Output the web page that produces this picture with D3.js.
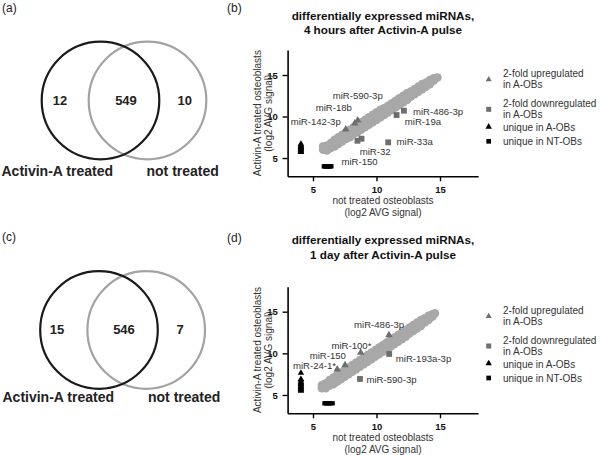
<!DOCTYPE html>
<html><head><meta charset="utf-8">
<script src="https://cdn.jsdelivr.net/npm/d3@7"></script>
<style>body{margin:0;background:#fff}svg{display:block;font-family:"Liberation Sans",Arial,Helvetica,sans-serif}</style>
</head><body><svg id="chart" width="600" height="455"></svg>
<script>
// ---------------- data ----------------
const vennSetNames = ["Activin-A treated", "not treated"];
const vennCounts4h = [12, 549, 10];
const vennCounts1d = [15, 546, 7];
const panelLetters = ["(a)", "(b)", "(c)", "(d)"];
const axisTicks = [5, 10, 15];
const xTitle = ["not treated osteoblasts", "(log2 AVG signal)"];
const yTitle = ["Activin-A treated osteoblasts", "(log2 AVG signal)"];
const title4h = ["differentially expressed miRNAs,", "4 hours after Activin-A pulse"];
const title1d = ["differentially expressed miRNAs,", "1 day after Activin-A pulse"];
const legendLabels = [["2-fold upregulated", "in A-OBs"], ["2-fold downregulated", "in A-OBs"], ["unique in A-OBs"], ["unique in NT-OBs"]];

// 4 hours: common miRNAs (grey cloud)
const cloud4h = [[5.8,6.0],[5.8,6.4],[6.1,5.9],[6.1,6.5],[6.4,6.2],[6.4,6.8],[6.7,6.4],[6.7,7.2],[6.7,6.9],
[7.0,6.7],[7.0,7.5],[7.0,7.1],[7.3,7.0],[7.3,7.8],[7.3,7.4],[7.6,7.3],[7.6,8.1],[7.6,7.7],[7.9,7.5],[7.9,8.4],[7.9,8.0],
[8.2,7.9],[8.2,8.7],[8.2,8.3],[8.5,8.1],[8.5,9.0],[8.5,8.6],[8.8,8.4],[8.8,9.3],[8.8,8.9],[9.1,8.7],[9.1,9.6],[9.1,9.2],
[9.4,9.0],[9.4,9.9],[9.4,9.5],[9.7,9.3],[9.7,10.2],[9.7,9.7],[10.0,9.6],[10.0,10.5],[10.0,10.0],[10.3,9.9],[10.3,10.8],[10.3,10.3],
[10.6,10.2],[10.6,11.0],[10.6,10.6],[10.9,10.5],[10.9,11.3],[10.9,10.9],[11.2,10.8],[11.2,11.6],[11.2,11.2],[11.5,11.1],[11.5,11.9],[11.5,11.5],
[11.8,11.4],[11.8,12.2],[11.8,11.8],[12.1,11.7],[12.1,12.5],[12.1,12.1],[12.4,12.0],[12.4,12.8],[12.4,12.4],[12.7,12.4],[12.7,13.0],
[13.0,12.7],[13.0,13.3],[13.3,13.0],[13.3,13.6],[13.6,13.3],[13.6,13.9],[13.9,13.6],[13.9,14.1],[14.2,13.9],[14.2,14.4],[14.5,14.3],[14.5,14.6],[14.8,14.7]];
const up4h = [[7.58,8.46],[8.29,9.18],[8.52,9.54]];
const down4h = [[8.5,7.08],[8.82,7.33],[10.92,6.89],[11.58,10.18],[12.16,10.7]];
const uniqueA4h = [[4.05,5.7],[4.05,5.8],[4.05,5.9],[4.05,6.0],[4.05,6.05],[4.05,6.15],[4.05,6.25],[4.05,6.3],[4.05,6.4],[4.05,6.5],[4.05,6.6],[4.05,6.7]];
const uniqueNT4h = [[5.85,4.0],[5.92,4.0],[5.98,4.0],[6.05,4.0],[6.12,4.0],[6.18,4.0],[6.25,4.0],[6.32,4.0],[6.38,4.0],[6.45,4.0]];
const labels4h = [["miR-590-3p",6.55,12.1],["miR-18b",5.21,10.72],["miR-142-3p",3.24,8.92],["miR-32",8.68,5.4],
["miR-150",7.24,4.2],["miR-33a",11.58,6.63],["miR-486-3p",12.87,10.22],["miR-19a",12.23,8.98]];

// 1 day
const cloud1d = [[5.7,5.8],[5.7,6.2],[6.0,5.8],[6.0,6.4],[6.3,6.1],[6.3,6.8],[6.6,6.3],[6.6,7.1],[6.6,6.7],
[6.9,6.6],[6.9,7.4],[6.9,7.0],[7.2,6.9],[7.2,7.7],[7.2,7.3],[7.5,7.2],[7.5,8.0],[7.5,7.6],[7.8,7.5],[7.8,8.3],[7.8,7.9],
[8.1,7.8],[8.1,8.6],[8.1,8.2],[8.4,8.1],[8.4,8.9],[8.4,8.5],[8.7,8.4],[8.7,9.2],[8.7,8.8],[9.0,8.7],[9.0,9.5],[9.0,9.1],
[9.3,9.0],[9.3,9.8],[9.3,9.4],[9.6,9.3],[9.6,10.1],[9.6,9.7],[9.9,9.6],[9.9,10.4],[9.9,10.0],[10.2,9.9],[10.2,10.7],[10.2,10.3],
[10.5,10.2],[10.5,11.0],[10.5,10.6],[10.8,10.5],[10.8,11.3],[10.8,10.9],[11.1,10.8],[11.1,11.6],[11.1,11.2],[11.4,11.1],[11.4,11.9],[11.4,11.5],
[11.7,11.4],[11.7,12.2],[11.7,11.8],[12.0,11.7],[12.0,12.5],[12.0,12.1],[12.3,12.0],[12.3,12.8],[12.6,12.4],[12.6,13.1],
[12.9,12.7],[12.9,13.4],[13.2,13.0],[13.2,13.7],[13.5,13.3],[13.5,14.0],[13.8,13.7],[13.8,14.2],[14.1,14.0],[14.1,14.5],[14.4,14.4],[14.4,14.7],[14.6,14.8]];
const up1d = [[6.91,8.09],[7.52,8.6],[8.76,10.08],[10.98,12.2]];
const down1d = [[8.7,6.92],[11.0,9.92]];
const uniqueA1d = [[4.05,5.5],[4.05,5.6],[4.05,5.7],[4.05,5.8],[4.05,5.9],[4.05,6.0],[4.05,6.1],[4.05,6.2],[4.05,6.3],[4.05,6.4],[4.05,6.5],[4.05,6.6],[4.05,6.8],[4.05,6.9],[4.05,7.65]];
const uniqueNT1d = [[5.9,4.0],[6.0,4.0],[6.1,4.0],[6.2,4.0],[6.3,4.0],[6.4,4.0],[6.55,4.0]];
const labels1d = [["miR-486-3p",8.23,13.04],["miR-100*",6.45,10.52],["miR-150",4.74,9.26],["miR-24-1*",3.42,8.12],
["miR-193a-3p",11.52,8.9],["miR-590-3p",9.21,6.38]];

// ---------------- drawing ----------------
const svg = d3.select("#chart");
const CLOUD = "#a8a8a8", MARK = "#6e6e6e", TXT = "#333";

// panel letters
[[2,12],[227,12],[2,241],[227,242]].forEach((p,i) => {
  svg.append("text").attr("x", p[0]).attr("y", p[1]).attr("font-size", 12).attr("fill", "#222").text(panelLetters[i]);
});

function venn(cfg, counts) {
  const g = svg.append("g");
  g.append("circle").attr("cx", cfg.c2).attr("cy", cfg.cy).attr("r", cfg.r)
    .attr("fill", "none").attr("stroke", "#a3a3a3").attr("stroke-width", 2.2);
  g.append("circle").attr("cx", cfg.c1).attr("cy", cfg.cy).attr("r", cfg.r)
    .attr("fill", "none").attr("stroke", "#1a1a1a").attr("stroke-width", 2.2);
  counts.forEach((v, i) => {
    g.append("text").attr("x", cfg.nx[i]).attr("y", cfg.ny).attr("text-anchor", "middle")
      .attr("font-size", 13).attr("font-weight", "bold").attr("fill", "#222").text(v);
  });
  vennSetNames.forEach((s, i) => {
    g.append("text").attr("x", cfg.lx[i]).attr("y", cfg.ly).attr("font-size", 14)
      .attr("font-weight", "bold").attr("fill", "#222").text(s);
  });
}
venn({c1: 100.5, c2: 147.5, cy: 100.5, r: 58.8, nx: [60, 126, 184.7], ny: 104.5, lx: [1.5, 146.5], ly: 175.5}, vennCounts4h);
venn({c1: 99, c2: 146.2, cy: 330, r: 58.8, nx: [57, 124, 180], ny: 334, lx: [2.5, 148], ly: 401.5}, vennCounts1d);

function scatter(cfg, d) {
  const x = d3.scaleLinear().domain([3, 18]).range([287.6, 478.1]);
  const y = d3.scaleLinear().domain([2.8, 18]).range([cfg.y0, cfg.y1]);
  const g = svg.append("g");

  // titles
  d.title.forEach((t, i) => {
    g.append("text").attr("x", 383).attr("y", cfg.ty + i * 14.5).attr("text-anchor", "middle")
      .attr("font-size", 11.7).attr("font-weight", "bold").attr("fill", "#111").text(t);
  });

  // cloud
  g.append("g").selectAll("circle").data(d.cloud).join("circle")
    .attr("cx", p => x(p[0])).attr("cy", p => y(p[1])).attr("r", 4.3).attr("fill", CLOUD);

  const sym = (data, type, size, color) => g.append("g").selectAll("path").data(data).join("path")
    .attr("d", d3.symbol().type(type).size(size))
    .attr("transform", p => `translate(${x(p[0])},${y(p[1])})`).attr("fill", color);
  sym(d.up, d3.symbolTriangle, 24, MARK);
  sym(d.down, d3.symbolSquare, 34, MARK);
  sym(d.uniqueA, d3.symbolTriangle, 18, "#000");
  sym(d.uniqueNT, d3.symbolSquare, 18, "#000");

  // labels
  g.append("g").selectAll("text").data(d.labels).join("text")
    .attr("x", p => x(p[1])).attr("y", p => y(p[2])).attr("font-size", 9.6).attr("fill", TXT).text(p => p[0]);

  // axes
  const xa = g.append("g").attr("transform", `translate(0,${cfg.y0})`)
    .call(d3.axisBottom(x).tickValues(axisTicks).tickSize(5).tickSizeOuter(0));
  const ya = g.append("g").attr("transform", `translate(287.6,0)`)
    .call(d3.axisLeft(y).tickValues(axisTicks).tickSize(5).tickSizeOuter(0));
  [xa, ya].forEach(a => {
    a.select(".domain").attr("stroke", "#000").attr("stroke-width", 1.6);
    a.selectAll(".tick line").attr("stroke", "#000").attr("stroke-width", 1.4);
    a.selectAll(".tick text").attr("font-size", 9.5).attr("font-weight", "bold").attr("fill", "#111")
      .attr("font-family", '"Liberation Sans",Arial,sans-serif');
  });
  xa.selectAll(".tick text").attr("dy", "0.9em");
  ya.selectAll(".tick text").attr("dx", "-0.2em");

  xTitle.forEach((t, i) => {
    g.append("text").attr("x", 383).attr("y", cfg.y0 + 27.5 + i * 12.5).attr("text-anchor", "middle")
      .attr("font-size", 10).attr("fill", TXT).text(t);
  });
  const ymid = (cfg.y0 + cfg.y1) / 2;
  yTitle.forEach((t, i) => {
    g.append("text").attr("transform", `translate(${260.5 + i * 11},${ymid}) rotate(-90)`)
      .attr("text-anchor", "middle").attr("font-size", 10).attr("fill", TXT).text(t);
  });

  // legend
  const ly = cfg.legY;
  const lg = g.append("g");
  const rows = [
    {type: d3.symbolTriangle, size: 16, color: MARK, sy: ly + 6.3, texts: legendLabels[0], ty: ly},
    {type: d3.symbolSquare, size: 25, color: MARK, sy: ly + 36, texts: legendLabels[1], ty: ly + 30},
    {type: d3.symbolTriangle, size: 18, color: "#000", sy: ly + 53.5, texts: legendLabels[2], ty: ly + 54.5},
    {type: d3.symbolSquare, size: 22, color: "#000", sy: ly + 68, texts: legendLabels[3], ty: ly + 68}
  ];
  rows.forEach(r => {
    lg.append("path").attr("d", d3.symbol().type(r.type).size(r.size)())
      .attr("transform", `translate(488.7,${r.sy})`).attr("fill", r.color);
    r.texts.forEach((t, i) => {
      lg.append("text").attr("x", 503).attr("y", r.ty + 3.6 + i * 11.5).attr("font-size", 10)
        .attr("fill", TXT).text(t);
    });
  });
}

scatter({y0: 176.3, y1: 50.1, ty: 19.5, legY: 73.3},
  {title: title4h, cloud: cloud4h, up: up4h, down: down4h, uniqueA: uniqueA4h, uniqueNT: uniqueNT4h, labels: labels4h});
scatter({y0: 413.3, y1: 286.7, ty: 244, legY: 310},
  {title: title1d, cloud: cloud1d, up: up1d, down: down1d, uniqueA: uniqueA1d, uniqueNT: uniqueNT1d, labels: labels1d});
</script></body></html>
